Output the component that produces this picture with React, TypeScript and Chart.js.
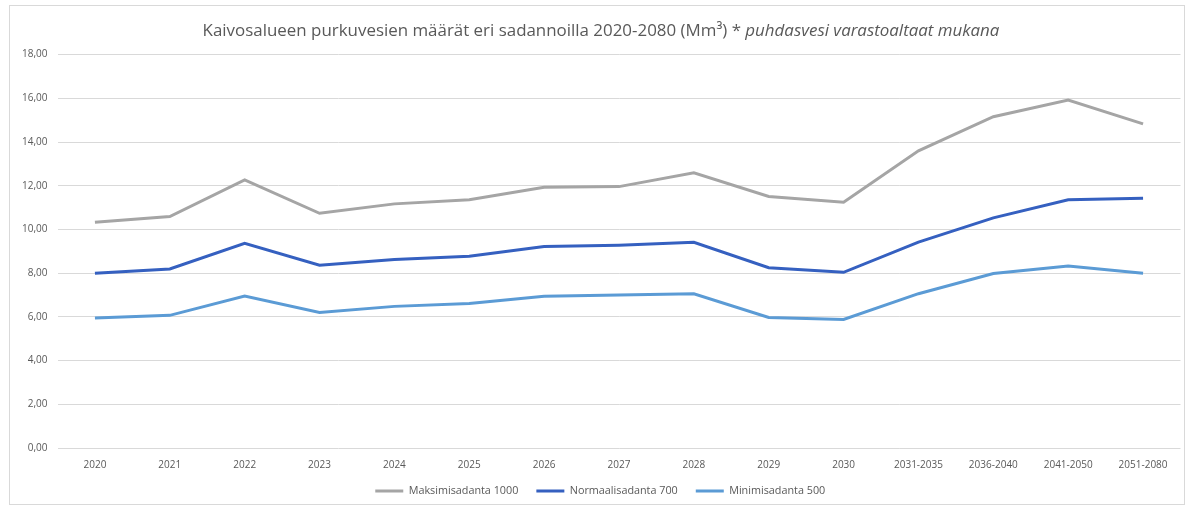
import React, { useEffect, useRef } from "react";
import { Chart, registerables } from "chart.js";

Chart.register(...registerables);

const categories = [
  "2020", "2021", "2022", "2023", "2024", "2025", "2026", "2027", "2028", "2029", "2030",
  "2031-2035", "2036-2040", "2041-2050", "2051-2080",
];
const maksimisadanta = [10.33, 10.59, 12.27, 10.74, 11.17, 11.36, 11.93, 11.96, 12.59, 11.51, 11.25, 13.6, 15.16, 15.92, 14.83];
const normaalisadanta = [8.0, 8.19, 9.37, 8.36, 8.62, 8.77, 9.22, 9.28, 9.41, 8.25, 8.04, 9.42, 10.53, 11.36, 11.43];
const minimisadanta = [5.95, 6.07, 6.95, 6.2, 6.48, 6.61, 6.94, 7.0, 7.06, 5.97, 5.88, 7.06, 7.98, 8.33, 8.0];
const seriesNames = ["Maksimisadanta 1000", "Normaalisadanta 700", "Minimisadanta 500"];
const titleNormal = "Kaivosalueen purkuvesien määrät eri sadannoilla 2020-2080 (Mm³) * ";
const titleItalic = "puhdasvesi varastoaltaat mukana";
const yMin = 0;
const yMax = 18;
const yStep = 2;

const FONT = "'Open Sans', 'Noto Sans', sans-serif";
const LEGEND_FONT_SIZE = 10.8;
const LEGEND_PADDING = 18;

const titlePlugin = {
  id: "mixedTitle",
  afterLayout(chart: any) {
    // place the legend row a little below the x tick labels
    const lg = chart.legend;
    if (lg) lg.top = 485 - LEGEND_PADDING - LEGEND_FONT_SIZE / 2;
  },
  afterDraw(chart: any) {
    const ctx = chart.ctx as CanvasRenderingContext2D;
    ctx.save();
    const targetWidth = 797;
    let size = 16;
    ctx.font = `${size}px ${FONT}`;
    let w1 = ctx.measureText(titleNormal).width;
    ctx.font = `italic ${size}px ${FONT}`;
    let w2 = ctx.measureText(titleItalic).width;
    size = size * targetWidth / (w1 + w2);
    ctx.font = `${size}px ${FONT}`;
    w1 = ctx.measureText(titleNormal).width;
    ctx.font = `italic ${size}px ${FONT}`;
    w2 = ctx.measureText(titleItalic).width;
    const x0 = chart.width / 2 + 4 - (w1 + w2) / 2;
    const y = 25;
    ctx.fillStyle = "#595959";
    ctx.textBaseline = "middle";
    ctx.textAlign = "left";
    ctx.font = `${size}px ${FONT}`;
    ctx.fillText(titleNormal, x0, y);
    ctx.font = `italic ${size}px ${FONT}`;
    ctx.fillText(titleItalic, x0 + w1, y);
    ctx.restore();
  },
};

export default function App() {
  const canvasRef = useRef<HTMLCanvasElement | null>(null);

  useEffect(() => {
    if (!canvasRef.current) return;
    const chart = new Chart(canvasRef.current, {
      type: "line",
      data: {
        labels: categories,
        datasets: [
          { label: seriesNames[0], data: maksimisadanta, borderColor: "#a5a5a5", backgroundColor: "#a5a5a5", borderWidth: 3, pointRadius: 0, tension: 0 },
          { label: seriesNames[1], data: normaalisadanta, borderColor: "#3560c0", backgroundColor: "#3560c0", borderWidth: 3, pointRadius: 0, tension: 0 },
          { label: seriesNames[2], data: minimisadanta, borderColor: "#5b9bd5", backgroundColor: "#5b9bd5", borderWidth: 3, pointRadius: 0, tension: 0 },
        ],
      },
      options: {
        responsive: false,
        animation: false,
        layout: { padding: { top: 48.6, left: 10, right: 3.5, bottom: 0 } },
        plugins: {
          title: { display: false },
          tooltip: { enabled: false },
          legend: {
            position: "bottom",
            maxHeight: 32,
            labels: {
              usePointStyle: true,
              pointStyle: "line",
              pointStyleWidth: 28,
              boxHeight: 9,
              padding: LEGEND_PADDING,
              color: "#595959",
              font: { family: FONT, size: LEGEND_FONT_SIZE },
            },
          },
        },
        scales: {
          x: {
            offset: true,
            grid: { display: false, drawTicks: false },
            border: { display: false },
            ticks: { color: "#595959", font: { family: FONT, size: 10 }, padding: 11, maxRotation: 0, autoSkip: false },
            afterFit: (s: any) => { s.height = 24; },
          },
          y: {
            min: yMin,
            max: yMax,
            grid: { color: "#d9d9d9", lineWidth: 1, drawTicks: false },
            border: { display: false },
            ticks: {
              stepSize: yStep,
              color: "#595959",
              font: { family: FONT, size: 10 },
              padding: 10,
              callback: (v: any) => Number(v).toFixed(2).replace(".", ","),
            },
            afterFit: (s: any) => { s.width = 37.5; },
          },
        },
      },
      plugins: [titlePlugin],
    });
    return () => chart.destroy();
  }, []);

  return (
    <div
      style={{
        position: "absolute",
        left: 9,
        top: 5,
        width: 1176,
        height: 500,
        border: "1px solid #d9d9d9",
        boxSizing: "border-box",
        background: "#fff",
      }}
    >
      <canvas ref={canvasRef} width={1174} height={498} style={{ display: "block" }} />
    </div>
  );
}
